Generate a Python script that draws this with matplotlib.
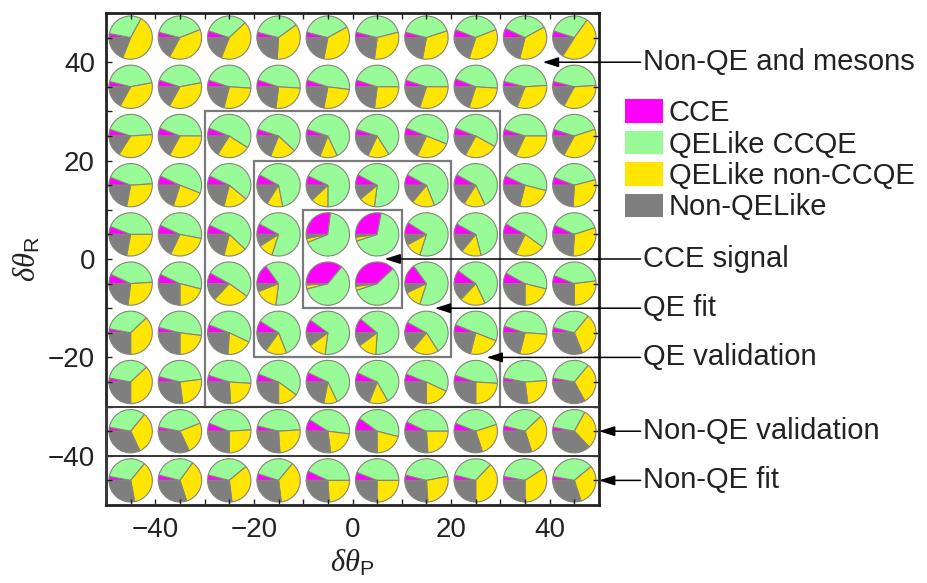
import matplotlib
matplotlib.use('Agg')
import matplotlib.pyplot as plt
from matplotlib.patches import Patch, Rectangle
from matplotlib.ticker import MultipleLocator

plt.rcParams['font.family'] = ['Liberation Sans', 'DejaVu Sans']
plt.rcParams['mathtext.fontset'] = 'custom'
plt.rcParams['mathtext.rm'] = 'Liberation Sans'
plt.rcParams['mathtext.it'] = 'Liberation Serif:italic'
plt.rcParams['mathtext.bf'] = 'Liberation Sans:bold'

# ---------------- data ----------------
x_centers = [-45, -35, -25, -15, -5, 5, 15, 25, 35, 45]
y_centers = [45, 35, 25, 15, 5, -5, -15, -25, -35, -45]

categories = ['CCE', 'QELike CCQE', 'QELike non-CCQE', 'Non-QELike']
colors = ['#ff00ff', '#98fb98', '#ffe600', '#7f7f7f']

# fractions (%) per pie, rows from top (y=45) to bottom (y=-45), columns left to right
cce = [
    [3, 4, 5, 4, 4, 4, 4, 6, 7, 5],
    [4, 5, 5, 5, 5, 5, 5, 6, 4, 4],
    [5, 6, 6, 5, 5, 5, 6, 6, 5, 5],
    [6, 7, 7, 8, 7, 8, 8, 8, 7, 6],
    [6, 7, 7, 8, 27, 28, 9, 8, 8, 7],
    [7, 7, 8, 15, 36, 38, 15, 10, 8, 6],
    [3, 4, 6, 9, 10, 11, 8, 6, 5, 4],
    [3, 4, 5, 6, 7, 7, 6, 5, 3, 3],
    [3, 3, 6, 4, 9, 10, 7, 6, 4, 3],
    [3, 4, 4, 5, 7, 6, 4, 4, 3, 3],
]
qelike_ccqe = [
    [30, 40, 33, 36, 38, 42, 41, 38, 35, 30],
    [43, 42, 46, 46, 47, 45, 45, 45, 45, 45],
    [44, 44, 53, 57, 63, 61, 50, 52, 45, 40],
    [43, 49, 54, 64, 68, 69, 61, 60, 47, 40],
    [44, 46, 55, 72, 67, 67, 71, 63, 52, 38],
    [42, 47, 52, 62, 60, 57, 65, 58, 46, 42],
    [35, 48, 51, 60, 67, 65, 58, 50, 46, 32],
    [35, 44, 46, 54, 61, 60, 51, 46, 46, 33],
    [33, 41, 43, 45, 43, 44, 43, 39, 34, 30],
    [33, 31, 35, 31, 43, 44, 43, 33, 38, 36],
]
qelike_nonccqe = [
    [48, 39, 43, 36, 36, 31, 33, 36, 37, 49],
    [36, 36, 28, 26, 26, 27, 30, 29, 32, 34],
    [35, 33, 25, 19, 13, 16, 26, 25, 32, 38],
    [29, 24, 18, 12, 13, 12, 17, 16, 25, 30],
    [28, 29, 17, 11, 3, 3, 12, 15, 22, 31],
    [28, 21, 27, 17, 3, 3, 13, 19, 21, 27],
    [37, 23, 19, 16, 13, 14, 20, 23, 28, 33],
    [37, 25, 23, 15, 10, 14, 18, 24, 24, 31],
    [32, 24, 26, 25, 21, 21, 24, 25, 32, 30],
    [36, 35, 34, 37, 24, 25, 27, 38, 34, 31],
]
non_qelike = [
    [19, 17, 19, 24, 22, 23, 22, 20, 21, 16],
    [17, 17, 21, 23, 22, 23, 20, 20, 19, 17],
    [16, 17, 16, 19, 19, 18, 18, 17, 18, 17],
    [22, 20, 21, 16, 12, 11, 14, 16, 21, 24],
    [22, 18, 21, 9, 3, 2, 8, 14, 18, 24],
    [23, 25, 13, 6, 1, 2, 7, 13, 25, 25],
    [25, 25, 24, 15, 10, 10, 14, 21, 21, 31],
    [25, 27, 26, 25, 22, 19, 25, 25, 27, 33],
    [32, 32, 25, 26, 27, 25, 26, 30, 30, 37],
    [28, 30, 27, 27, 26, 25, 26, 25, 25, 30],
]

# region boxes (x0, x1, y0, y1)
qe_box_names = ['QE validation', 'QE fit', 'CCE signal']
qe_boxes = [(-30, 30, -30, 30), (-20, 20, -20, 20), (-10, 10, -10, 10)]
nonqe_box_names = ['Non-QE validation', 'Non-QE fit']
nonqe_boxes = [(-50, 50, -40, -30), (-50, 50, -50, -40)]

# annotation labels and target points
ann_labels = ['Non-QE and mesons', 'CCE signal', 'QE fit', 'QE validation',
              'Non-QE validation', 'Non-QE fit']
ann_targets = [(38.6, 40), (6.5, 0), (16.7, -10), (27.2, -20), (50, -35), (50, -45)]
ann_text_x = 59

x_ticks = [-40, -20, 0, 20, 40]
y_ticks = [-40, -20, 0, 20, 40]

# ---------------- figure ----------------
fig = plt.figure(figsize=(9.27, 5.83), dpi=100)
ax = fig.add_axes([106 / 927, 1 - 505 / 583, 493 / 927, 492 / 583])

for i, yc in enumerate(y_centers):
    for j, xc in enumerate(x_centers):
        vals = [cce[i][j], qelike_ccqe[i][j], qelike_nonccqe[i][j], non_qelike[i][j]]
        ax.pie(vals, colors=colors, center=(xc, yc), radius=4.4,
               startangle=180, counterclock=False, frame=True, normalize=True,
               wedgeprops=dict(edgecolor='#85857a', linewidth=0.8))

for (x0, x1, y0, y1) in qe_boxes:
    ax.add_patch(Rectangle((x0, y0), x1 - x0, y1 - y0, fill=False,
                           edgecolor='#7a7a7a', linewidth=1.6, zorder=3))
for (x0, x1, y0, y1) in nonqe_boxes:
    ax.add_patch(Rectangle((x0, y0), x1 - x0, y1 - y0, fill=False,
                           edgecolor='#3a3a3a', linewidth=1.4, zorder=3))

ax.set_xlim(-50, 50)
ax.set_ylim(-50, 50)
ax.set_aspect('auto')
ax.set_xticks(x_ticks)
ax.set_yticks(y_ticks)
ax.xaxis.set_minor_locator(MultipleLocator(5))
ax.yaxis.set_minor_locator(MultipleLocator(5))
ax.tick_params(which='both', direction='in', top=True, right=True,
               length=4, width=1, colors='#222222', labelcolor='#222222')
ax.tick_params(axis='x', labelsize=20, pad=8.5)
ax.tick_params(axis='y', labelsize=20, pad=8)
for s in ax.spines.values():
    s.set_linewidth(2)
    s.set_color('#222222')

ax.set_xlabel(r'$\delta\theta_{\mathrm{P}}$', fontsize=22, labelpad=4, color='#222222')
ax.set_ylabel(r'$\delta\theta_{\mathrm{R}}$', fontsize=22, labelpad=4, color='#222222')

for lab, (tx, ty) in zip(ann_labels, ann_targets):
    ax.annotate(lab, xy=(tx, ty), xytext=(ann_text_x, ty), textcoords='data',
                ha='left', va='center', fontsize=21, color='#222222',
                annotation_clip=False,
                arrowprops=dict(arrowstyle='-|>,head_length=0.63,head_width=0.2',
                                color='black', lw=1.1, mutation_scale=15,
                                shrinkA=0, shrinkB=0))

handles = [Patch(facecolor=c, edgecolor='none') for c in colors]
fig.legend(handles, categories, loc='upper left',
           bbox_to_anchor=(625 / 927, 1 - 99 / 583), frameon=False,
           fontsize=21, handlelength=1.3, handleheight=0.85, handletextpad=0.2,
           labelspacing=0.12, borderpad=0, borderaxespad=0,
           labelcolor='#222222')

fig.savefig('out.png', dpi=100)
